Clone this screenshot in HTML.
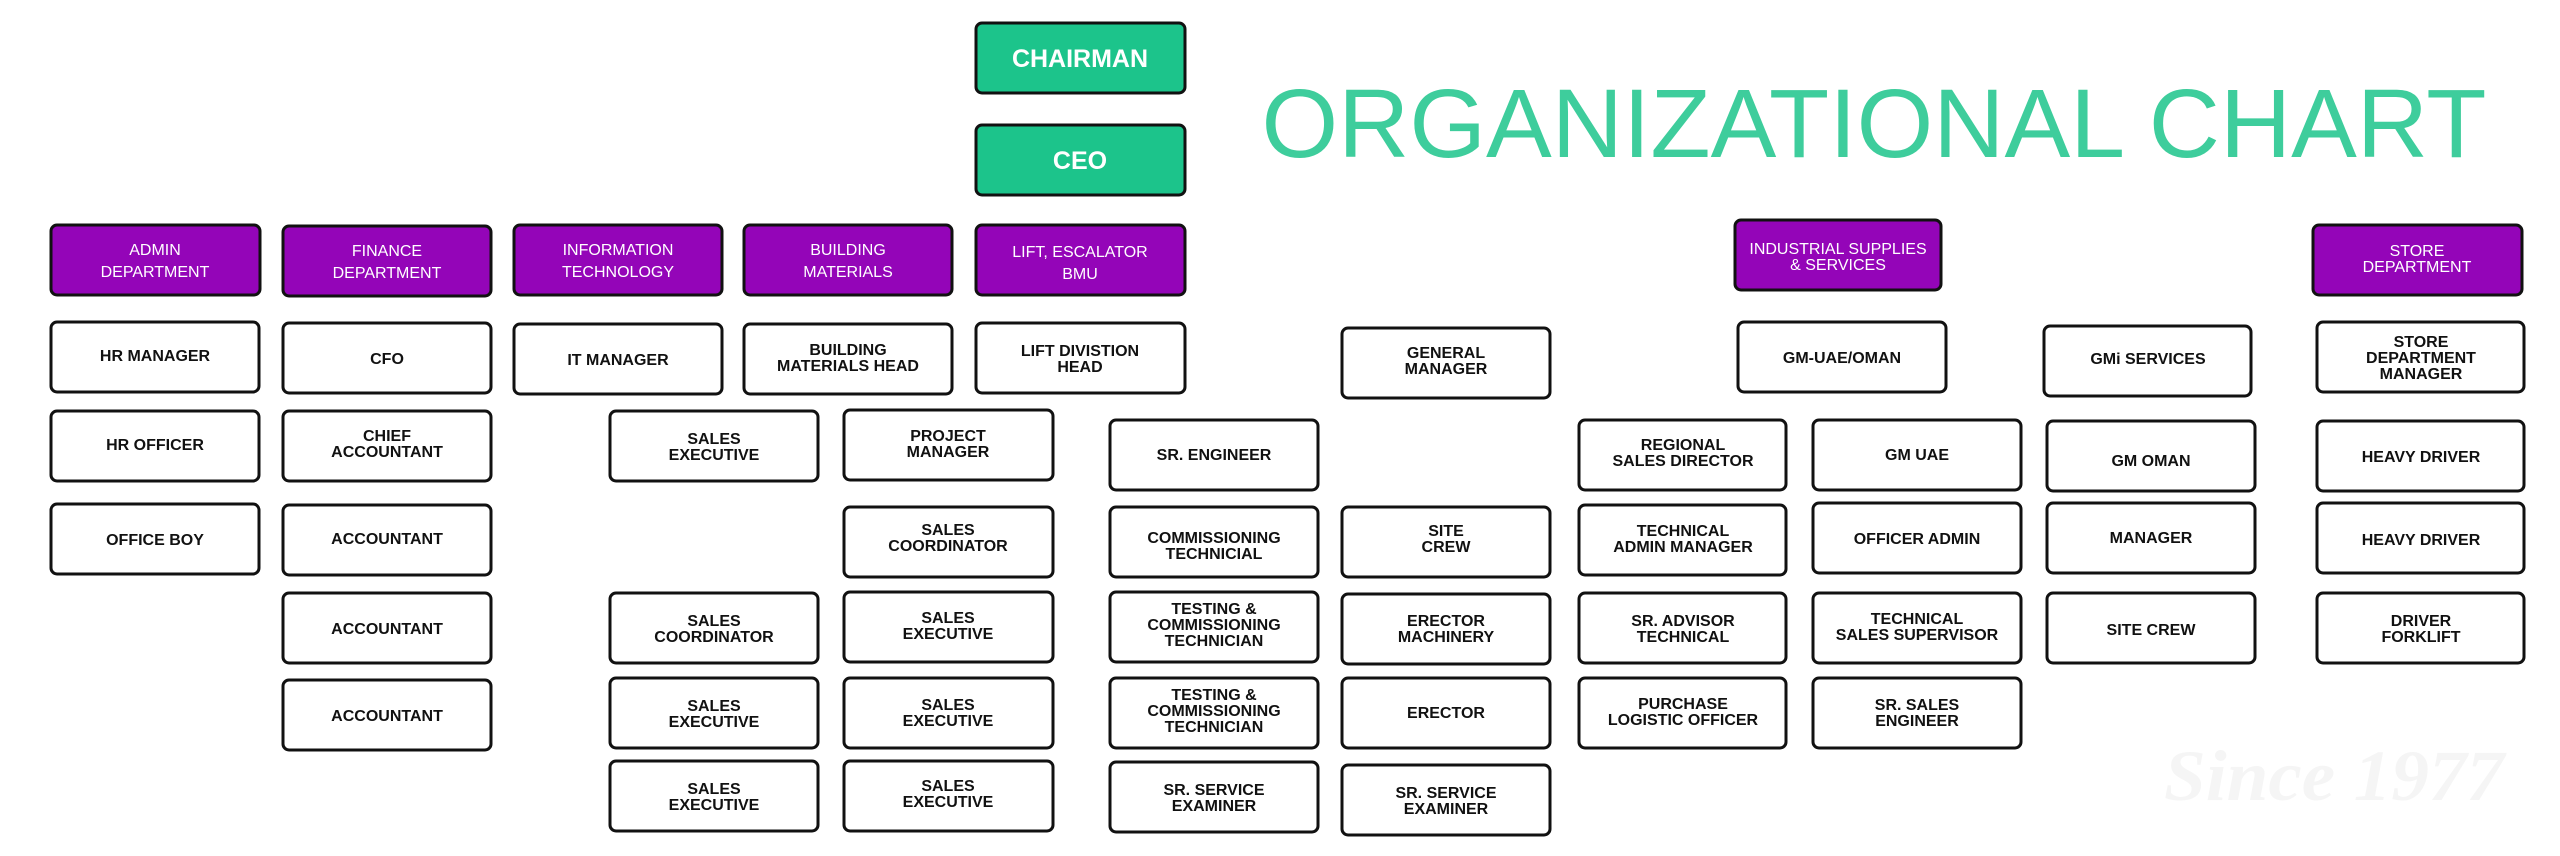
<!DOCTYPE html>
<html><head><meta charset="utf-8"><style>
html,body{margin:0;padding:0;background:#fff;}
svg{display:block;}
.w{fill:#fff;stroke:#111;stroke-width:3;}
.g{fill:#1cc48b;stroke:#111;stroke-width:3;}
.p{fill:#9405b8;stroke:#111;stroke-width:3;}
text{font-family:"Liberation Sans",sans-serif;text-anchor:middle;}
.t{font-size:16px;fill:#111;font-weight:bold;}
.pt{font-size:16px;fill:#fff;}
.gt{font-size:25px;fill:#fff;font-weight:bold;}
</style></head><body>
<svg width="2560" height="856" viewBox="0 0 2560 856" xmlns="http://www.w3.org/2000/svg">
<text x="2334" y="800" style="font-family:'Liberation Serif',serif;font-style:italic;font-weight:bold;font-size:72px;fill:#f5f5f5" textLength="340" lengthAdjust="spacingAndGlyphs">Since 1977</text>
<text x="1874" y="157" style="font-size:97px;fill:#3ecd9c;" textLength="1225" lengthAdjust="spacingAndGlyphs">ORGANIZATIONAL CHART</text>

<rect class="g" x="976" y="23" width="209" height="70" rx="6"/><text class="gt" x="1080" y="67">CHAIRMAN</text>
<rect class="g" x="976" y="125" width="209" height="70" rx="6"/><text class="gt" x="1080" y="169">CEO</text>

<rect class="p" x="51" y="225" width="209" height="70" rx="6"/><text class="pt" x="155" y="255">ADMIN</text><text class="pt" x="155" y="277">DEPARTMENT</text>
<rect class="p" x="283" y="226" width="208" height="70" rx="6"/><text class="pt" x="387" y="256">FINANCE</text><text class="pt" x="387" y="278">DEPARTMENT</text>
<rect class="p" x="514" y="225" width="208" height="70" rx="6"/><text class="pt" x="618" y="255">INFORMATION</text><text class="pt" x="618" y="277">TECHNOLOGY</text>
<rect class="p" x="744" y="225" width="208" height="70" rx="6"/><text class="pt" x="848" y="255">BUILDING</text><text class="pt" x="848" y="277">MATERIALS</text>
<rect class="p" x="976" y="225" width="209" height="70" rx="6"/><text class="pt" x="1080" y="257">LIFT, ESCALATOR</text><text class="pt" x="1080" y="279">BMU</text>
<rect class="p" x="1735" y="220" width="206" height="70" rx="6"/><text class="pt" x="1838" y="254">INDUSTRIAL SUPPLIES</text><text class="pt" x="1838" y="270">&amp; SERVICES</text>
<rect class="p" x="2313" y="225" width="209" height="70" rx="6"/><text class="pt" x="2417" y="256">STORE</text><text class="pt" x="2417" y="272">DEPARTMENT</text>

<g>
<rect class="w" x="51" y="322" width="208" height="70" rx="6"/><text class="t" x="155" y="361">HR MANAGER</text>
<rect class="w" x="51" y="411" width="208" height="70" rx="6"/><text class="t" x="155" y="450">HR OFFICER</text>
<rect class="w" x="51" y="504" width="208" height="70" rx="6"/><text class="t" x="155" y="545">OFFICE BOY</text>

<rect class="w" x="283" y="323" width="208" height="70" rx="6"/><text class="t" x="387" y="364">CFO</text>
<rect class="w" x="283" y="411" width="208" height="70" rx="6"/><text class="t" x="387" y="441">CHIEF</text><text class="t" x="387" y="457">ACCOUNTANT</text>
<rect class="w" x="283" y="505" width="208" height="70" rx="6"/><text class="t" x="387" y="544">ACCOUNTANT</text>
<rect class="w" x="283" y="593" width="208" height="70" rx="6"/><text class="t" x="387" y="634">ACCOUNTANT</text>
<rect class="w" x="283" y="680" width="208" height="70" rx="6"/><text class="t" x="387" y="721">ACCOUNTANT</text>

<rect class="w" x="514" y="324" width="208" height="70" rx="6"/><text class="t" x="618" y="365">IT MANAGER</text>
<rect class="w" x="744" y="324" width="208" height="70" rx="6"/><text class="t" x="848" y="355">BUILDING</text><text class="t" x="848" y="371">MATERIALS HEAD</text>
<rect class="w" x="976" y="323" width="209" height="70" rx="6"/><text class="t" x="1080" y="356">LIFT DIVISTION</text><text class="t" x="1080" y="372">HEAD</text>

<rect class="w" x="610" y="411" width="208" height="70" rx="6"/><text class="t" x="714" y="444">SALES</text><text class="t" x="714" y="460">EXECUTIVE</text>
<rect class="w" x="610" y="593" width="208" height="70" rx="6"/><text class="t" x="714" y="626">SALES</text><text class="t" x="714" y="642">COORDINATOR</text>
<rect class="w" x="610" y="678" width="208" height="70" rx="6"/><text class="t" x="714" y="711">SALES</text><text class="t" x="714" y="727">EXECUTIVE</text>
<rect class="w" x="610" y="761" width="208" height="70" rx="6"/><text class="t" x="714" y="794">SALES</text><text class="t" x="714" y="810">EXECUTIVE</text>

<rect class="w" x="844" y="410" width="209" height="70" rx="6"/><text class="t" x="948" y="441">PROJECT</text><text class="t" x="948" y="457">MANAGER</text>
<rect class="w" x="844" y="507" width="209" height="70" rx="6"/><text class="t" x="948" y="535">SALES</text><text class="t" x="948" y="551">COORDINATOR</text>
<rect class="w" x="844" y="592" width="209" height="70" rx="6"/><text class="t" x="948" y="623">SALES</text><text class="t" x="948" y="639">EXECUTIVE</text>
<rect class="w" x="844" y="678" width="209" height="70" rx="6"/><text class="t" x="948" y="710">SALES</text><text class="t" x="948" y="726">EXECUTIVE</text>
<rect class="w" x="844" y="761" width="209" height="70" rx="6"/><text class="t" x="948" y="791">SALES</text><text class="t" x="948" y="807">EXECUTIVE</text>

<rect class="w" x="1110" y="420" width="208" height="70" rx="6"/><text class="t" x="1214" y="460">SR. ENGINEER</text>
<rect class="w" x="1110" y="507" width="208" height="70" rx="6"/><text class="t" x="1214" y="543">COMMISSIONING</text><text class="t" x="1214" y="559">TECHNICIAL</text>
<rect class="w" x="1110" y="592" width="208" height="70" rx="6"/><text class="t" x="1214" y="614">TESTING &amp;</text><text class="t" x="1214" y="630">COMMISSIONING</text><text class="t" x="1214" y="646">TECHNICIAN</text>
<rect class="w" x="1110" y="678" width="208" height="70" rx="6"/><text class="t" x="1214" y="700">TESTING &amp;</text><text class="t" x="1214" y="716">COMMISSIONING</text><text class="t" x="1214" y="732">TECHNICIAN</text>
<rect class="w" x="1110" y="762" width="208" height="70" rx="6"/><text class="t" x="1214" y="795">SR. SERVICE</text><text class="t" x="1214" y="811">EXAMINER</text>

<rect class="w" x="1342" y="328" width="208" height="70" rx="6"/><text class="t" x="1446" y="358">GENERAL</text><text class="t" x="1446" y="374">MANAGER</text>
<rect class="w" x="1342" y="507" width="208" height="70" rx="6"/><text class="t" x="1446" y="536">SITE</text><text class="t" x="1446" y="552">CREW</text>
<rect class="w" x="1342" y="594" width="208" height="70" rx="6"/><text class="t" x="1446" y="626">ERECTOR</text><text class="t" x="1446" y="642">MACHINERY</text>
<rect class="w" x="1342" y="678" width="208" height="70" rx="6"/><text class="t" x="1446" y="718">ERECTOR</text>
<rect class="w" x="1342" y="765" width="208" height="70" rx="6"/><text class="t" x="1446" y="798">SR. SERVICE</text><text class="t" x="1446" y="814">EXAMINER</text>

<rect class="w" x="1738" y="322" width="208" height="70" rx="6"/><text class="t" x="1842" y="363">GM-UAE/OMAN</text>

<rect class="w" x="1579" y="420" width="207" height="70" rx="6"/><text class="t" x="1683" y="450">REGIONAL</text><text class="t" x="1683" y="466">SALES DIRECTOR</text>
<rect class="w" x="1579" y="505" width="207" height="70" rx="6"/><text class="t" x="1683" y="536">TECHNICAL</text><text class="t" x="1683" y="552">ADMIN MANAGER</text>
<rect class="w" x="1579" y="593" width="207" height="70" rx="6"/><text class="t" x="1683" y="626">SR. ADVISOR</text><text class="t" x="1683" y="642">TECHNICAL</text>
<rect class="w" x="1579" y="678" width="207" height="70" rx="6"/><text class="t" x="1683" y="709">PURCHASE</text><text class="t" x="1683" y="725">LOGISTIC OFFICER</text>

<rect class="w" x="1813" y="420" width="208" height="70" rx="6"/><text class="t" x="1917" y="460">GM UAE</text>
<rect class="w" x="1813" y="503" width="208" height="70" rx="6"/><text class="t" x="1917" y="544">OFFICER ADMIN</text>
<rect class="w" x="1813" y="593" width="208" height="70" rx="6"/><text class="t" x="1917" y="624">TECHNICAL</text><text class="t" x="1917" y="640">SALES SUPERVISOR</text>
<rect class="w" x="1813" y="678" width="208" height="70" rx="6"/><text class="t" x="1917" y="710">SR. SALES</text><text class="t" x="1917" y="726">ENGINEER</text>

<rect class="w" x="2044" y="326" width="207" height="70" rx="6"/><text class="t" x="2148" y="364">GMi SERVICES</text>
<rect class="w" x="2047" y="421" width="208" height="70" rx="6"/><text class="t" x="2151" y="466">GM OMAN</text>
<rect class="w" x="2047" y="503" width="208" height="70" rx="6"/><text class="t" x="2151" y="543">MANAGER</text>
<rect class="w" x="2047" y="593" width="208" height="70" rx="6"/><text class="t" x="2151" y="635">SITE CREW</text>

<rect class="w" x="2317" y="322" width="207" height="70" rx="6"/><text class="t" x="2421" y="347">STORE</text><text class="t" x="2421" y="363">DEPARTMENT</text><text class="t" x="2421" y="379">MANAGER</text>
<rect class="w" x="2317" y="421" width="207" height="70" rx="6"/><text class="t" x="2421" y="462">HEAVY DRIVER</text>
<rect class="w" x="2317" y="503" width="207" height="70" rx="6"/><text class="t" x="2421" y="545">HEAVY DRIVER</text>
<rect class="w" x="2317" y="593" width="207" height="70" rx="6"/><text class="t" x="2421" y="626">DRIVER</text><text class="t" x="2421" y="642">FORKLIFT</text>
</g>
</svg>
</body></html>
